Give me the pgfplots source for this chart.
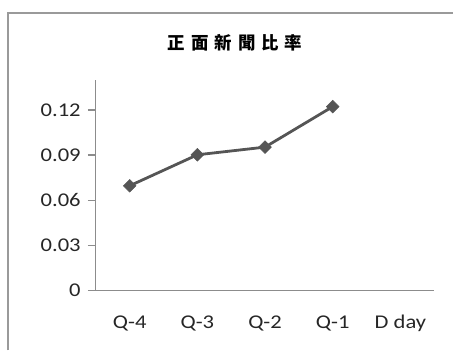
\documentclass[border=0pt]{standalone}
\usepackage{pgfplots}
\pgfplotsset{compat=1.18}
\usepackage{fontspec}
\setmainfont{Carlito}[FakeStretch=1.16]
\newfontfamily\cjk{Noto Sans CJK TC}
\definecolor{axisgray}{HTML}{8C8C8C}
\definecolor{framegray}{HTML}{9A9A9A}
\definecolor{linegray}{HTML}{555555}
\definecolor{txt}{HTML}{262626}
\begin{document}
\begin{tikzpicture}[x=1bp,y=1bp]
\path (0,0) rectangle (454,-350);
\draw[framegray, line width=1.6bp] (8,-351) -- (8,-13) -- (454,-13);
\node[anchor=center, text=black] at (235.5,-43) {\cjk\bfseries\fontsize{17.5bp}{19bp}\selectfont 正\hspace{6bp}面\hspace{6bp}新\hspace{6bp}聞\hspace{6bp}比\hspace{6bp}率};
\begin{axis}[
  at={(96bp,-291bp)}, anchor=south west,
  scale only axis, width=339bp, height=211bp,
  xmin=-0.5, xmax=4.5, ymin=0, ymax=0.14,
  axis x line=bottom, axis y line=left,
  axis line style={-, axisgray, line width=1.2bp},
  tick align=outside,
  xtick={0,1,2,3,4},
  xticklabels={Q-4,Q-3,Q-2,Q-1,D day},
  x tick style={draw=none},
  minor xtick={-0.5,0.5,1.5,2.5,3.5,4.5},
  minor x tick style={axisgray, line width=1.2bp},
  minor tick length=6bp,
  ytick={0,0.03,0.06,0.09,0.12},
  yticklabels={0,0.03,0.06,0.09,0.12},
  y tick style={axisgray, line width=1.2bp},
  major tick length=8bp,
  /pgf/number format/assume math mode=true,
  ticklabel style={font=\fontsize{19.5bp}{22bp}\selectfont, text=txt, inner sep=0pt},
  yticklabel style={anchor=east, xshift=-7bp},
  xticklabel style={anchor=base, yshift=-30bp},
  clip=false,
]
\addplot[linegray, line width=2.8bp, mark=square*, mark size=4.5bp, mark options={rotate=45, fill=linegray, draw=linegray, line width=0.5bp}]
  coordinates {(0,0.0696) (1,0.0902) (2,0.0953) (3,0.1222)};
\end{axis}
\end{tikzpicture}
\end{document}
